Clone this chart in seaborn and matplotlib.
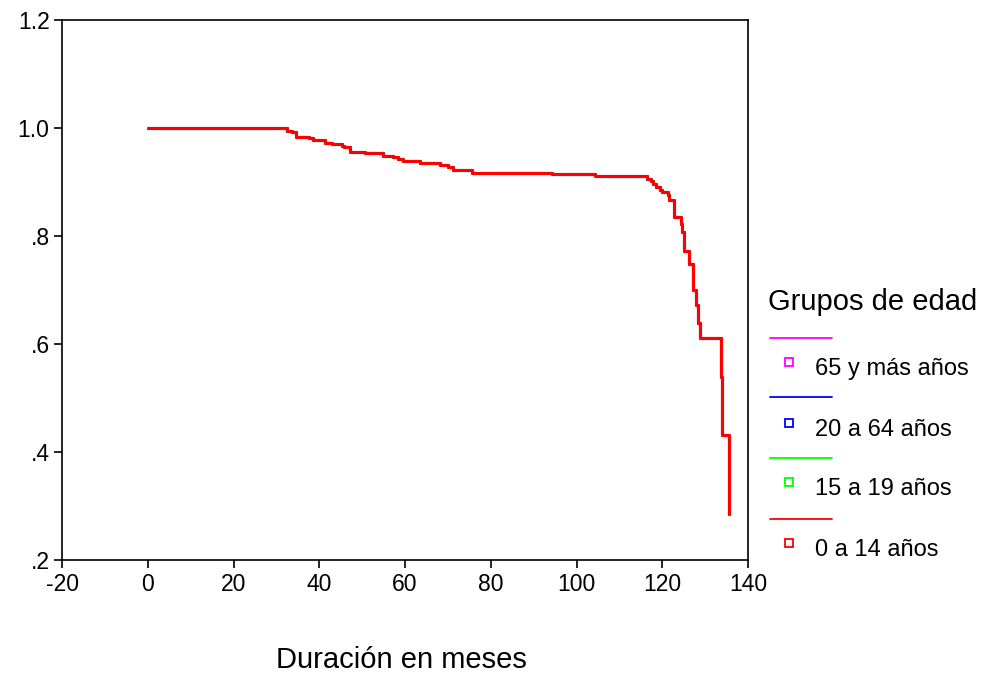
import matplotlib
matplotlib.use("Agg")
import matplotlib.pyplot as plt
from matplotlib.lines import Line2D
import numpy as np
import pandas as pd
import seaborn as sns

# Kaplan-Meier step curve: event times (months) and cumulative survival
tiempo = [0, 32.5, 33.6, 34.6, 37.6, 38.5, 41.3, 43.0, 45.3, 45.8, 47.2, 50.7,
          54.9, 57.2, 58.4, 59.5, 63.5, 68.2, 70.0, 71.2, 75.6, 94.3, 104.3,
          116.5, 117.3, 117.8, 118.5, 119.5, 119.9, 121.4, 121.6, 122.8, 124.3,
          124.7, 125.1, 126.2, 127.2, 127.8, 128.4, 128.8, 133.6, 133.9, 135.6]
supervivencia = [1.000, 0.995, 0.993, 0.984, 0.981, 0.978, 0.973, 0.970, 0.967,
                 0.964, 0.956, 0.953, 0.949, 0.946, 0.942, 0.938, 0.936, 0.931,
                 0.927, 0.922, 0.917, 0.914, 0.911, 0.906, 0.901, 0.896, 0.891,
                 0.886, 0.881, 0.875, 0.867, 0.835, 0.822, 0.808, 0.772, 0.749,
                 0.700, 0.672, 0.639, 0.612, 0.538, 0.431, 0.286]

grupos = ["65 y más años", "20 a 64 años", "15 a 19 años", "0 a 14 años"]
colores = ["#FF00FF", "#0000FF", "#00FF00", "#FF0000"]

x_ticks = [-20, 0, 20, 40, 60, 80, 100, 120, 140]
y_ticks = [0.2, 0.4, 0.6, 0.8, 1.0, 1.2]
y_tick_labels = [".2", ".4", ".6", ".8", "1.0", "1.2"]

frames = []
for g in grupos:
    frames.append(pd.DataFrame({"Duración": tiempo, "Supervivencia": supervivencia, "Grupo": g}))
df = pd.concat(frames, ignore_index=True)

sns.set_style("white")
plt.rcParams["font.family"] = ["Liberation Sans", "DejaVu Sans"]
plt.rcParams["text.color"] = "black"

fig = plt.figure(figsize=(10.07, 6.77), dpi=100)
ax = fig.add_axes([0.0616, 0.1728, 0.6812, 0.7977])

sns.lineplot(data=df, x="Duración", y="Supervivencia", hue="Grupo",
             hue_order=grupos, palette=colores, estimator=None,
             drawstyle="steps-post", linewidth=2.2, legend=False, ax=ax)

ax.set_xlim(-20, 140)
ax.set_ylim(0.2, 1.2)
ax.set_xticks(x_ticks)
ax.set_xticklabels([str(v) for v in x_ticks])
ax.set_yticks(y_ticks)
ax.set_yticklabels(y_tick_labels)
ax.tick_params(axis="both", which="major", direction="out", length=6, width=1.2,
               labelsize=16.5, colors="black", labelcolor="black",
               bottom=True, left=True, top=False, right=False)
ax.tick_params(axis="x", pad=3)
ax.tick_params(axis="y", pad=3)
for s in ax.spines.values():
    s.set_color("black")
    s.set_linewidth(1.2)
ax.set_xlabel("")
ax.set_ylabel("")
fig.text(0.399, 1 - 660 / 677, "Duración en meses", fontsize=21, ha="center",
         va="center", color="black")

# Legend block: coloured line above, small square marker and label below
fig.text(768 / 1007, 1 - 302 / 677, "Grupos de edad", fontsize=21,
         ha="left", va="center", color="black")
line_y = [338, 397, 458, 519]
mark_y = [362, 423, 482, 543]
for g, c, ly, my in zip(grupos, colores, line_y, mark_y):
    fig.add_artist(Line2D([770 / 1007, 832 / 1007], [1 - ly / 677, 1 - ly / 677],
                          color=c, linewidth=1.3, transform=fig.transFigure))
    fig.add_artist(Line2D([789 / 1007], [1 - my / 677], marker="s", markersize=5.5,
                          markerfacecolor="white", markeredgecolor=c,
                          markeredgewidth=1.3, linestyle="none",
                          transform=fig.transFigure))
    fig.text(815 / 1007, 1 - (my + 7) / 677, g, fontsize=17, ha="left",
             va="center", color="black")

fig.savefig("out.png", dpi=100, facecolor="white")
